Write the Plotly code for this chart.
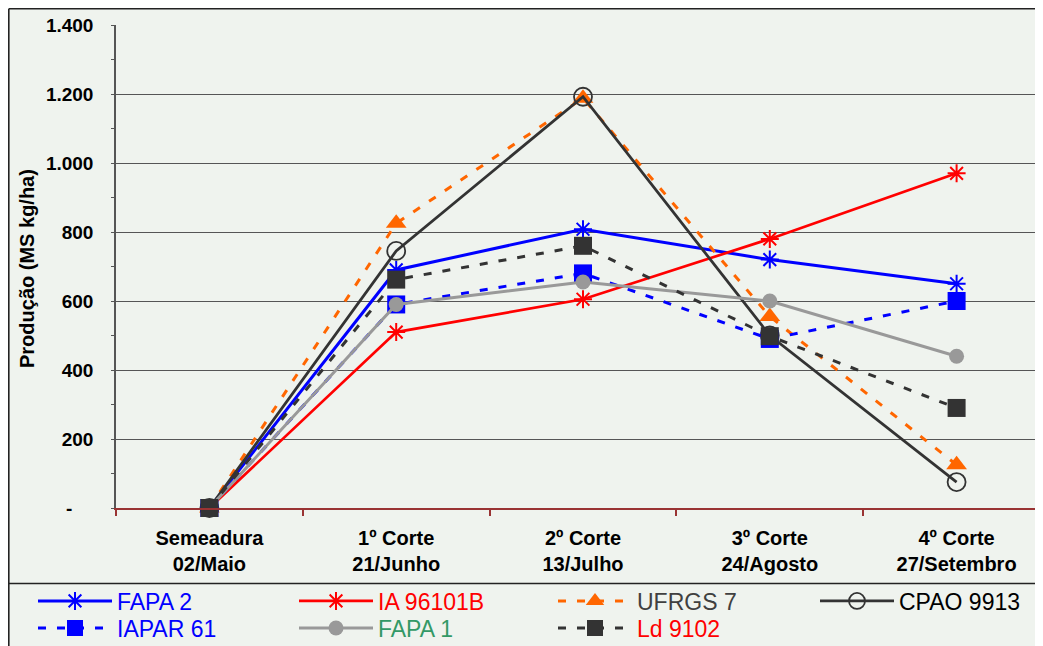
import plotly.graph_objects as go

categories = ["Semeadura<br>02/Maio", "1º Corte<br>21/Junho", "2º Corte<br>13/Julho",
              "3º Corte<br>24/Agosto", "4º Corte<br>27/Setembro"]

fapa2 = [0, 690, 808, 720, 650]
ia96101b = [0, 510, 605, 780, 970]
ufrgs7 = [0, 825, 1188, 555, 125]
cpao9913 = [0, 745, 1192, 500, 75]
iapar61 = [0, 590, 680, 490, 600]
fapa1 = [0, 590, 655, 600, 440]
ld9102 = [0, 662, 760, 498, 290]

y_tickvals = [0, 200, 400, 600, 800, 1000, 1200, 1400]
y_ticktext = ["-\u00a0\u00a0\u00a0\u00a0", "200", "400", "600", "800", "1.000", "1.200", "1.400"]

# figure pixel geometry (page body adds an 8px white margin around the figure)
W, H = 1043, 646
ML, MR, MT, MB = 108, 1, 17, 146
PW, PH = W - ML - MR, H - MT - MB


def px(x):
    return (x - ML) / PW


def py(y):
    return (H - MB - y) / PH


BG = "#EFF3EE"
DASH = "8px,11px"

series = [
    dict(name="FAPA 2", y=fapa2, color="#0000FF", tcol="#0000FF", dash="solid", width=3,
         marker=dict(symbol="asterisk-open", size=15, line=dict(color="#0000FF", width=2))),
    dict(name="IA 96101B", y=ia96101b, color="#FF0000", tcol="#FF0000", dash="solid", width=2.7,
         marker=dict(symbol="asterisk-open", size=15, line=dict(color="#FF0000", width=2))),
    dict(name="UFRGS 7", y=ufrgs7, color="#FF6600", tcol="#404040", dash=DASH, width=3,
         marker=dict(symbol="triangle-up", size=18, color="#FF6600")),
    dict(name="CPAO 9913", y=cpao9913, color="#333333", tcol="#000000", dash="solid", width=2.8,
         marker=dict(symbol="circle-open", size=18, line=dict(color="#333333", width=1.8))),
    dict(name="IAPAR 61", y=iapar61, color="#0000FF", tcol="#0000FF", dash=DASH, width=3,
         marker=dict(symbol="square", size=18, color="#0000FF")),
    dict(name="FAPA 1", y=fapa1, color="#999999", tcol="#339966", dash="solid", width=3,
         marker=dict(symbol="circle", size=15, color="#999999")),
    dict(name="Ld 9102", y=ld9102, color="#333333", tcol="#FF0000", dash=DASH, width=3,
         marker=dict(symbol="square", size=18, color="#333333")),
]

# legend slots (left x, row center y) in figure pixels
legend_cols = [25, 286, 545, 807]
legend_rows = [593, 620]

fig = go.Figure()
legends = {}
for i, s in enumerate(series):
    key = "legend" if i == 0 else f"legend{i + 1}"
    col, row = i % 4, i // 4
    fig.add_trace(go.Scatter(
        x=categories, y=s["y"], mode="lines+markers",
        name=f'<span style="color:{s["tcol"]}">{s["name"]}</span>',
        line=dict(color=s["color"], width=s["width"], dash=s["dash"]),
        marker=s["marker"], cliponaxis=False, legend=key,
    ))
    legends[key] = dict(orientation="v", x=px(legend_cols[col]), y=py(legend_rows[row]),
                        xanchor="left", yanchor="middle", bgcolor="rgba(0,0,0,0)",
                        font=dict(size=23, color="#000000"), itemwidth=74, borderwidth=0)

shapes = [
    dict(type="line", xref="paper", yref="paper", x0=px(0.8), x1=px(0.8), y0=py(0.8), y1=py(H + 2),
         line=dict(color="#222222", width=1.6)),
    dict(type="line", xref="paper", yref="paper", x0=px(0.8), x1=px(W + 2), y0=py(0.8), y1=py(0.8),
         line=dict(color="#222222", width=1.6)),
    dict(type="line", xref="paper", yref="paper", x0=px(0.8), x1=px(W + 2), y0=py(575.5), y1=py(575.5),
         line=dict(color="#222222", width=1.6)),
]

fig.update_layout(
    width=W, height=H,
    margin=dict(l=ML, r=MR, t=MT, b=MB, pad=0, autoexpand=False),
    paper_bgcolor=BG, plot_bgcolor=BG,
    font=dict(family="Liberation Sans, Arial, sans-serif", color="#000000"),
    showlegend=True,
    shapes=shapes,
    annotations=[dict(text="<b>Produção (MS kg/ha)</b>", xref="paper", yref="paper",
                      x=px(19), y=py(261), xanchor="center", yanchor="middle",
                      textangle=-90, showarrow=False,
                      font=dict(size=20, color="#000000"))],
    xaxis=dict(type="category", range=[-0.5, 4.5],
               showline=True, linecolor="#993333", linewidth=1.5,
               ticks="outside", ticklen=6, tickcolor="#993333", tickwidth=1.5,
               tickson="boundaries", showgrid=False, zeroline=False,
               tickfont=dict(size=20, color="#000000", family="Liberation Sans, Arial, sans-serif",
                             weight="bold"),
               ticklabelstandoff=11),
    yaxis=dict(range=[0, 1400], tickvals=y_tickvals, ticktext=y_ticktext,
               showline=True, linecolor="#555555", linewidth=1.5,
               ticks="outside", ticklen=3, tickcolor="#555555",
               minor=dict(tickvals=[100, 300, 500, 700, 900, 1100, 1300], ticks="outside",
                          ticklen=3, tickcolor="#555555", showgrid=False),
               showgrid=True, gridcolor="#555555", gridwidth=1, zeroline=False,
               tickfont=dict(size=19, color="#000000", family="Liberation Sans, Arial, sans-serif",
                             weight="bold"),
               ticklabelstandoff=14),
)
fig.update_layout(**legends)

fig.write_html("out.html")
